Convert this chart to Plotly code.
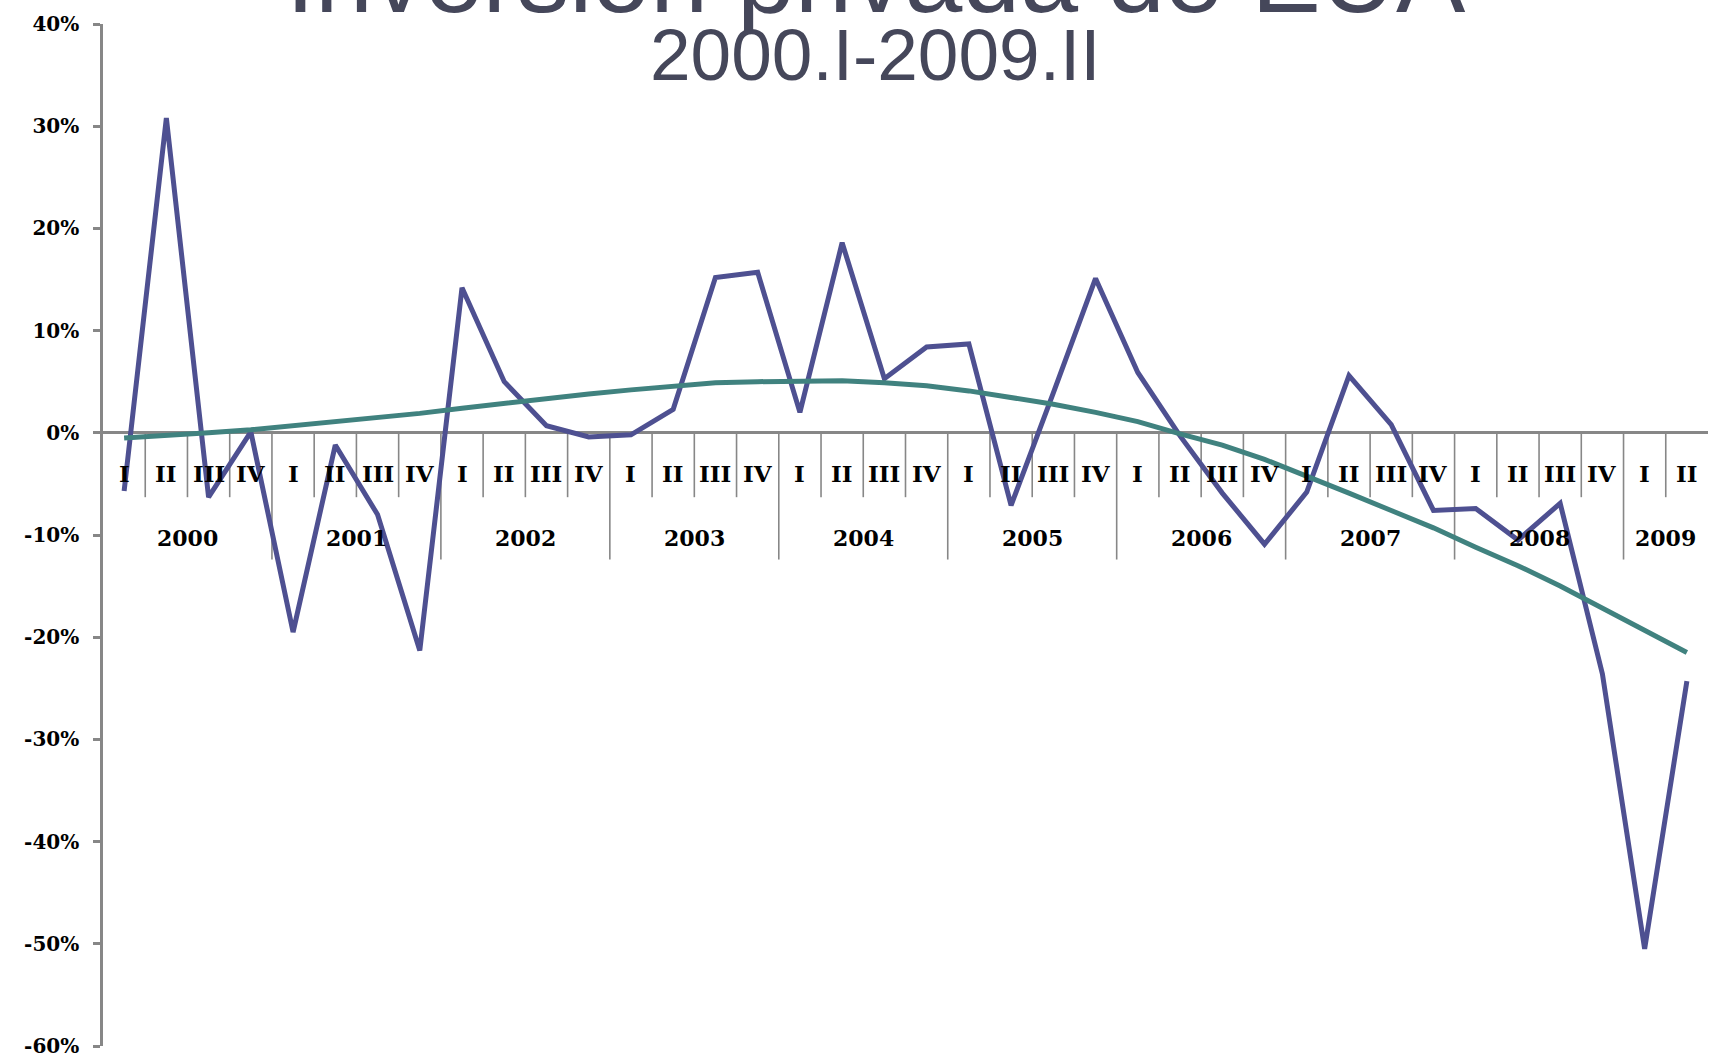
import plotly.graph_objects as go

# ---------------- data ----------------
titulo = "Inversión privada de EUA"
subtitulo = "2000.I-2009.II"

year_labels = ["2000", "2001", "2002", "2003", "2004", "2005", "2006", "2007", "2008", "2009"]
quarters_in_year = [4, 4, 4, 4, 4, 4, 4, 4, 4, 2]
quarter_labels = ["I", "II", "III", "IV"]

# quarterly growth of private investment (%)
inversion_privada = [-5.7, 30.8, -6.3, 0.1,
                     -19.5, -1.2, -8.0, -21.3,
                     14.2, 5.0, 0.7, -0.4,
                     -0.2, 2.3, 15.2, 15.7,
                     2.0, 18.6, 5.3, 8.4,
                     8.7, -7.1, 3.9, 15.1,
                     5.9, -0.3, -5.9, -10.9,
                     -5.8, 5.6, 0.8, -7.6,
                     -7.4, -10.5, -6.9, -23.6,
                     -50.5, -24.3]

# polynomial trend line (%)
tendencia = [-0.5, -0.3, 0.0, 0.3,
             0.7, 1.0, 1.4, 1.9,
             2.4, 2.9, 3.3, 3.8,
             4.2, 4.6, 4.9, 5.0,
             5.1, 5.1, 4.9, 4.6,
             4.1, 3.5, 2.8, 2.0,
             1.1, -0.1, -1.2, -2.6,
             -4.2, -5.9, -7.6, -9.3,
             -11.2, -13.0, -15.0, -17.2,
             -19.4, -21.5]

y_ticks = [40, 30, 20, 10, 0, -10, -20, -30, -40, -50, -60]
y_tick_labels = ["40%", "30%", "20%", "10%", "0%", "-10%", "-20%", "-30%", "-40%", "-50%", "-60%"]

# ---------------- styles ----------------
BLUE = "#4E5091"
TEAL = "#40827F"
GRAY = "#878787"
TITLE_COLOR = "#45475A"
SERIF = "DejaVu Serif"

categories = []
for yr, n in zip(year_labels, quarters_in_year):
    for q in quarter_labels[:n]:
        categories.append(f"{yr}.{q}")

fig = go.Figure()
fig.add_trace(go.Scatter(x=categories, y=inversion_privada, mode="lines",
                         line=dict(color=BLUE, width=5), name="Inversión privada"))
fig.add_trace(go.Scatter(x=categories, y=tendencia, mode="lines",
                         line=dict(color=TEAL, width=5), name="Tendencia"))

# category axis drawn at the zero line (Excel style)
QUARTER_LABEL_Y = -4.0
YEAR_LABEL_Y = -10.3
QUARTER_TICK_BOTTOM = -6.3
YEAR_TICK_BOTTOM = -12.4

idx = 0
for yi, (yr, n) in enumerate(zip(year_labels, quarters_in_year)):
    for k in range(n):
        i = idx + k
        fig.add_annotation(x=i, y=QUARTER_LABEL_Y, xref="x", yref="y", text=quarter_labels[k],
                           showarrow=False, font=dict(family=SERIF, size=23, color="black", weight="bold"))
        if k > 0:
            fig.add_shape(type="line", xref="x", yref="y", x0=i - 0.5, x1=i - 0.5,
                          y0=0, y1=QUARTER_TICK_BOTTOM, line=dict(color=GRAY, width=1.6), layer="below")
    fig.add_annotation(x=idx + (n - 1) / 2, y=YEAR_LABEL_Y, xref="x", yref="y", text=yr,
                       showarrow=False, font=dict(family=SERIF, size=22, color="black", weight="bold"))
    if yi > 0:
        fig.add_shape(type="line", xref="x", yref="y", x0=idx - 0.5, x1=idx - 0.5,
                      y0=0, y1=YEAR_TICK_BOTTOM, line=dict(color=GRAY, width=1.6), layer="below")
    idx += n

# titles
fig.add_annotation(xref="paper", yref="paper", x=0.4816, y=1.0467, xanchor="center", yanchor="middle",
                   text=titulo, showarrow=False,
                   font=dict(family="Liberation Sans", size=104, color=TITLE_COLOR))
fig.add_annotation(xref="paper", yref="paper", x=0.4816, y=0.9699, xanchor="center", yanchor="middle",
                   text=subtitulo, showarrow=False,
                   font=dict(family="Liberation Sans", size=73, color=TITLE_COLOR))

fig.update_layout(
    width=1709, height=1059,
    margin=dict(l=103, r=1, t=24, b=13, pad=0),
    paper_bgcolor="white", plot_bgcolor="white",
    showlegend=False, hovermode=False,
    xaxis=dict(type="category", range=[-0.5, len(categories) - 0.5], visible=False,
               showgrid=False, zeroline=False),
    yaxis=dict(range=[-60, 40], tickvals=y_ticks, ticktext=y_tick_labels,
               showgrid=False, showline=True, linecolor=GRAY, linewidth=2.5,
               ticks="outside", ticklen=7, tickwidth=2.5, tickcolor=GRAY,
               zeroline=True, zerolinecolor=GRAY, zerolinewidth=2.5,
               ticklabelstandoff=10,
               tickfont=dict(family=SERIF, size=20, color="black", weight="bold")),
)

fig.write_html("out.html", config={"displayModeBar": False},
               post_script="document.body.style.margin='0';")
